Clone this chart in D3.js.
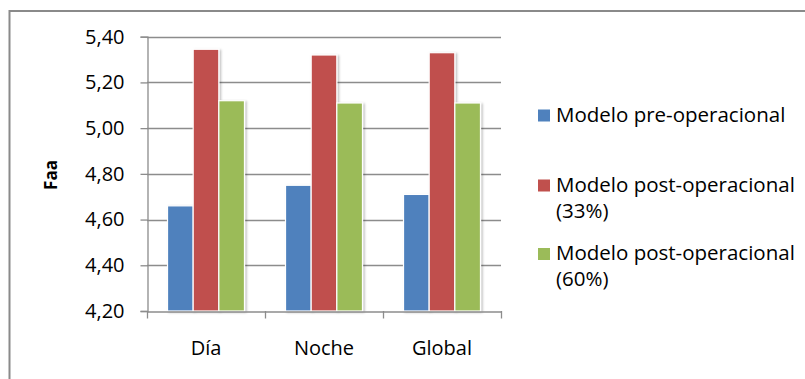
<!DOCTYPE html>
<html>
<head>
<meta charset="utf-8">
<script src="https://cdn.jsdelivr.net/npm/d3@7"></script>
<style>
  html, body { margin: 0; padding: 0; background: #fff; }
  svg { display: block; }
  text { font-family: "Open Sans", "Noto Sans", sans-serif; fill: #000; }
</style>
</head>
<body>
<svg id="chart" width="805" height="379"></svg>
<script>
// Categories, series and values
const categories = ["Día", "Noche", "Global"];
const seriesNames = [
  ["Modelo pre-operacional"],
  ["Modelo post-operacional", "(33%)"],
  ["Modelo post-operacional", "(60%)"]
];
const preOperacional = [4.66, 4.75, 4.71];
const post33 = [5.345, 5.32, 5.33];
const post60 = [5.12, 5.11, 5.11];
const yTicks = [4.2, 4.4, 4.6, 4.8, 5.0, 5.2, 5.4];
const colors = ["#4F81BD", "#C0504D", "#9BBB59"];

const seriesValues = [preOperacional, post33, post60];

const svg = d3.select("#chart");

// Drop shadow used by the bars
const defs = svg.append("defs");
const shadow = defs.append("filter").attr("id", "barShadow")
  .attr("x", "-20%").attr("y", "-5%").attr("width", "150%").attr("height", "115%");
shadow.append("feDropShadow")
  .attr("dx", 1.5).attr("dy", 1).attr("stdDeviation", 1.2)
  .attr("flood-color", "#000").attr("flood-opacity", 0.28);

// Chart area frame
svg.append("rect")
  .attr("x", 9.5).attr("y", 11).attr("width", 820).attr("height", 400)
  .attr("fill", "#fff").attr("stroke", "#8a8a8a").attr("stroke-width", 2);

const plot = { left: 147, right: 501, top: 36.7, bottom: 311 };

const y = d3.scaleLinear().domain([4.2, 5.4]).range([plot.bottom, plot.top]);
const x0 = d3.scaleBand().domain(categories).range([plot.left, plot.right]).padding(0);
const x1 = d3.scaleBand().domain(d3.range(3)).range([0, x0.bandwidth()])
  .paddingInner(0).paddingOuter(0.8);

// Horizontal gridlines
svg.append("g")
  .selectAll("line")
  .data(yTicks.slice(1))
  .join("line")
  .attr("x1", plot.left).attr("x2", plot.right)
  .attr("y1", d => Math.round(y(d)) + 0.5).attr("y2", d => Math.round(y(d)) + 0.5)
  .attr("stroke", "#8c8c8c").attr("stroke-width", 1.3);

// Y axis
const yAxis = d3.axisLeft(y)
  .tickValues(yTicks)
  .tickSize(7)
  .tickPadding(16)
  .tickFormat(d => d3.format(".2f")(d).replace(".", ","));
const gy = svg.append("g").attr("transform", `translate(${plot.left + 0.5},0)`).call(yAxis);
gy.select(".domain").attr("stroke", "#8c8c8c").attr("stroke-width", 1.3);
gy.selectAll(".tick line").attr("stroke", "#8c8c8c").attr("stroke-width", 1.3);
gy.selectAll(".tick text")
  .attr("font-family", "'Open Sans', sans-serif")
  .attr("font-size", 20).attr("fill", "#000");

// Bars
const groups = svg.append("g")
  .selectAll("g")
  .data(categories)
  .join("g")
  .attr("transform", d => `translate(${x0(d)},0)`);

groups.selectAll("rect")
  .data((d, i) => seriesValues.map((vals, s) => ({ s, v: vals[i] })))
  .join("rect")
  .attr("x", d => x1(d.s))
  .attr("width", x1.bandwidth())
  .attr("y", d => y(d.v))
  .attr("height", d => y(4.2) - y(d.v))
  .attr("fill", d => colors[d.s])
  .attr("stroke", "#fff")
  .attr("stroke-width", 1.2)
  .attr("filter", "url(#barShadow)");

// X axis
const xAxis = d3.axisBottom(x0).tickSize(0).tickFormat("");
const gx = svg.append("g").attr("transform", `translate(0,${plot.bottom + 0.5})`).call(xAxis);
gx.select(".domain").attr("stroke", "#8c8c8c").attr("stroke-width", 1.3);
gx.selectAll(".tick").remove();

// Category boundary ticks
const boundaries = categories.map(c => x0(c)).concat([plot.right]);
svg.append("g")
  .selectAll("line")
  .data(boundaries)
  .join("line")
  .attr("x1", d => Math.round(d) + 0.5).attr("x2", d => Math.round(d) + 0.5)
  .attr("y1", plot.bottom).attr("y2", plot.bottom + 7.5)
  .attr("stroke", "#8c8c8c").attr("stroke-width", 1.3);

// Category labels
svg.append("g")
  .selectAll("text")
  .data(categories)
  .join("text")
  .attr("x", d => x0(d) + x0.bandwidth() / 2)
  .attr("y", 355)
  .attr("text-anchor", "middle")
  .attr("font-size", 20)
  .text(d => d);

// Y axis title
svg.append("text")
  .attr("transform", "translate(57,175) rotate(-90)")
  .attr("text-anchor", "middle")
  .attr("font-size", 17)
  .attr("font-weight", "bold")
  .text("Faa");

// Legend
const legendY = [121.5, 191.5, 260];
const legend = svg.append("g")
  .selectAll("g")
  .data(seriesNames)
  .join("g")
  .attr("transform", (d, i) => `translate(538,${legendY[i]})`);

legend.append("rect")
  .attr("x", 0).attr("y", -12).attr("width", 12).attr("height", 12)
  .attr("fill", (d, i) => colors[i]);

legend.append("text")
  .attr("x", 18).attr("y", 0)
  .attr("font-size", 20.5)
  .selectAll("tspan")
  .data(d => d)
  .join("tspan")
  .attr("x", 18)
  .attr("dy", (d, j) => j === 0 ? 0 : 26)
  .text(d => d);
</script>
</body>
</html>
